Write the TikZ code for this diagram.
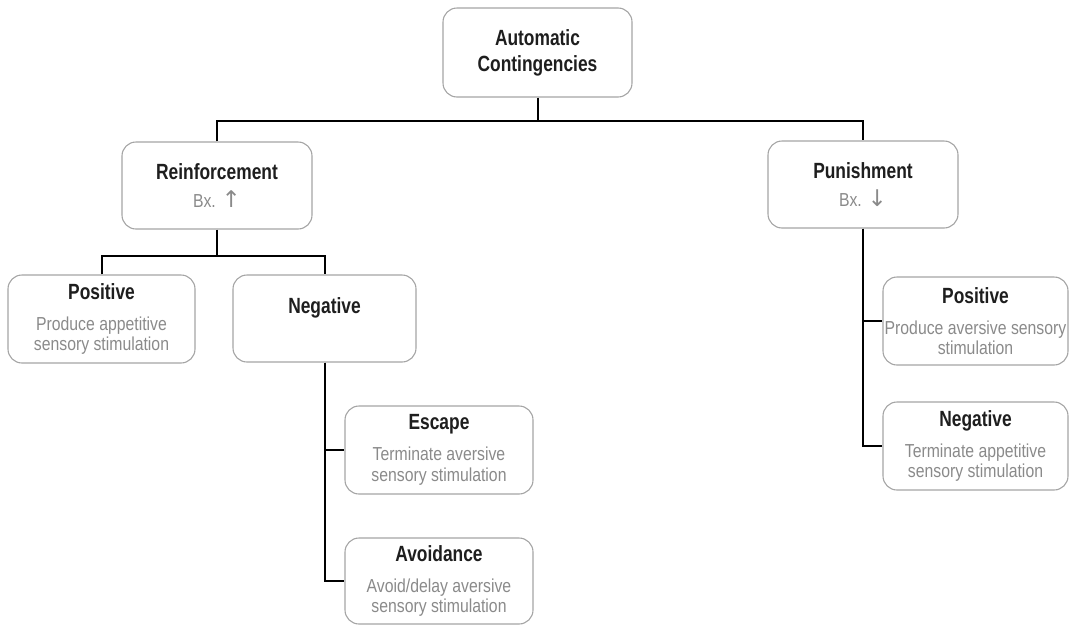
\documentclass[tikz,border=0pt]{standalone}
\usepackage{fontspec}
\setmainfont{Liberation Sans}
\newfontfamily\condfont[FakeStretch=0.79]{Liberation Sans}
\newfontfamily\descfont[FakeStretch=0.84]{Liberation Sans}
\newfontfamily\arrowfont{DejaVu Sans}
\definecolor{boxline}{RGB}{165,165,165}
\definecolor{desctext}{RGB}{138,138,138}
\definecolor{titletext}{RGB}{30,30,30}
\newcommand\maintitlefont{\condfont\bfseries\fontsize{22}{26}\selectfont}
\newcommand\subtitlefont{\condfont\bfseries\fontsize{22}{26}\selectfont}
\newcommand\descsize{\descfont\fontsize{18.8}{20.5}\selectfont}
\newcommand\ttl[1]{{\color{titletext}\subtitlefont #1}}
\newcommand\mttl[1]{{\color{titletext}\maintitlefont #1}}
\newcommand\arr[1]{{\arrowfont\fontsize{23}{20.5}\selectfont #1}}
\begin{document}
\begin{tikzpicture}[x=1pt,y=-1pt,
  box/.style={draw=boxline, line width=1.1pt, rounded corners=14pt, align=center, inner sep=0pt, text=desctext, font=\descsize},
  conn/.style={draw=black, line width=2pt},
]
\useasboundingbox (0,0) rectangle (1070,627);
% boxes
\node[box, minimum width=189pt, minimum height=89pt, font=\maintitlefont, text=titletext] (auto) at (537.5,52.5) {Automatic\\Contingencies};
\node[box, minimum width=190pt, minimum height=87pt] (reinf) at (217,185.5) {\mttl{Reinforcement}\\[7pt]Bx. \arr{↑}};
\node[box, minimum width=190pt, minimum height=87pt] (pun) at (863,184.5) {\mttl{Punishment}\\[7pt]Bx. \arr{↓}};
\node[box, minimum width=187pt, minimum height=88pt] (posL) at (101.5,319) {\ttl{Positive}\\[10.5pt]Produce appetitive\\sensory stimulation};
\node[box, minimum width=183pt, minimum height=87pt] (negL) at (324.5,318.5) {};
\node[anchor=base, inner sep=0pt, text=titletext, font=\subtitlefont] (negLt) at (324.5,313) {Negative};
\node[box, minimum width=188pt, minimum height=88pt] (esc) at (439,450) {\ttl{Escape}\\[10.5pt]Terminate aversive\\sensory stimulation};
\node[box, minimum width=188pt, minimum height=86pt] (avoid) at (439,581) {\ttl{Avoidance}\\[10.5pt]Avoid/delay aversive\\sensory stimulation};
\node[box, minimum width=185pt, minimum height=88pt] (posR) at (975.5,321) {\ttl{Positive}\\[10.5pt]Produce aversive sensory\\stimulation};
\node[box, minimum width=185pt, minimum height=88pt] (negR) at (975.5,446) {\ttl{Negative}\\[10.5pt]Terminate appetitive\\sensory stimulation};
% connectors
\draw[conn] (auto.south) -- ++(0,23) coordinate (bus);
\draw[conn] (reinf.north) |- (bus) -| (pun.north);
\draw[conn] (reinf.south) -- ++(0,26) coordinate (rbus);
\draw[conn] (posL.north) |- (rbus) -| (negL.north);
\draw[conn] (negL.south) |- (esc.west);
\draw[conn] (negL.south) |- (avoid.west);
\draw[conn] (pun.south) |- (posR.west);
\draw[conn] (pun.south) |- (negR.west);
\end{tikzpicture}
\end{document}
